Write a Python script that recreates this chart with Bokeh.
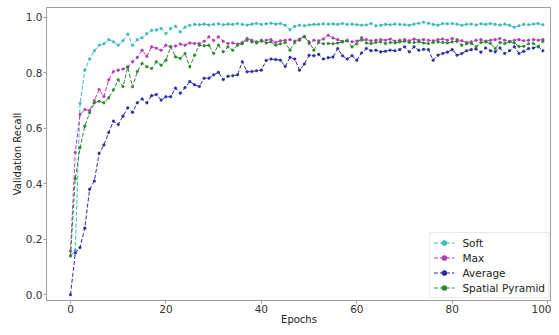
from bokeh.plotting import figure
from bokeh.models import Range1d, FixedTicker, PrintfTickFormatter, Legend, LegendItem
from bokeh.embed import file_html
from bokeh.resources import INLINE

epochs = list(range(100))

soft = [0.14, 0.16, 0.69, 0.81, 0.85, 0.88, 0.90, 0.905, 0.92, 0.912,
        0.90, 0.916, 0.94, 0.90, 0.92, 0.927, 0.942, 0.954, 0.955, 0.96,
        0.942, 0.96, 0.968, 0.948, 0.965, 0.972, 0.975, 0.974, 0.976, 0.973,
        0.975, 0.977, 0.974, 0.976, 0.975, 0.978, 0.975, 0.973, 0.976, 0.978,
        0.975, 0.977, 0.979, 0.976, 0.978, 0.972, 0.956, 0.968, 0.972, 0.970,
        0.973, 0.975, 0.975, 0.977, 0.976, 0.977, 0.975, 0.978, 0.975, 0.976,
        0.974, 0.972, 0.973, 0.978, 0.970, 0.972, 0.975, 0.974, 0.976, 0.975,
        0.974, 0.972, 0.976, 0.979, 0.983, 0.979, 0.975, 0.972, 0.978, 0.977,
        0.978, 0.976, 0.972, 0.975, 0.976, 0.973, 0.977, 0.975, 0.978, 0.975,
        0.973, 0.976, 0.972, 0.965, 0.970, 0.975, 0.974, 0.976, 0.978, 0.974]

maxp = [0.157, 0.513, 0.65, 0.668, 0.664, 0.70, 0.74, 0.715, 0.775, 0.805,
        0.81, 0.814, 0.822, 0.84, 0.856, 0.882, 0.86, 0.894, 0.889, 0.882,
        0.90, 0.894, 0.897, 0.904, 0.90, 0.908, 0.906, 0.906, 0.914, 0.93,
        0.917, 0.93, 0.914, 0.906, 0.908, 0.904, 0.910, 0.924, 0.918, 0.912,
        0.914, 0.918, 0.920, 0.910, 0.916, 0.918, 0.920, 0.915, 0.922, 0.932,
        0.906, 0.918, 0.916, 0.922, 0.936, 0.926, 0.920, 0.914, 0.918, 0.912,
        0.915, 0.918, 0.920, 0.916, 0.918, 0.920, 0.918, 0.922, 0.915, 0.918,
        0.920, 0.916, 0.922, 0.918, 0.920, 0.918, 0.916, 0.920, 0.922, 0.918,
        0.924, 0.920, 0.916, 0.910, 0.912, 0.918, 0.920, 0.915, 0.918, 0.920,
        0.924, 0.918, 0.914, 0.918, 0.920, 0.916, 0.918, 0.920, 0.918, 0.920]

average = [0.0, 0.15, 0.17, 0.24, 0.38, 0.41, 0.51, 0.54, 0.585, 0.626,
           0.614, 0.644, 0.674, 0.658, 0.692, 0.706, 0.692, 0.718, 0.722, 0.702,
           0.714, 0.714, 0.745, 0.727, 0.747, 0.769, 0.757, 0.751, 0.781, 0.781,
           0.793, 0.802, 0.776, 0.788, 0.79, 0.793, 0.84, 0.804, 0.805, 0.808,
           0.81, 0.845, 0.85, 0.848, 0.846, 0.823, 0.856, 0.85, 0.81, 0.832,
           0.864, 0.862, 0.867, 0.85, 0.855, 0.857, 0.888, 0.862, 0.85, 0.862,
           0.846, 0.872, 0.888, 0.88, 0.882, 0.876, 0.878, 0.882, 0.88, 0.884,
           0.894, 0.876, 0.894, 0.882, 0.885, 0.884, 0.846, 0.864, 0.87, 0.875,
           0.884, 0.864, 0.87, 0.88, 0.884, 0.886, 0.875, 0.89, 0.88, 0.876,
           0.89, 0.87, 0.88, 0.894, 0.87, 0.878, 0.888, 0.89, 0.895, 0.88]

spatial = [0.14, 0.418, 0.53, 0.608, 0.656, 0.692, 0.698, 0.692, 0.71, 0.739,
           0.775, 0.751, 0.82, 0.75, 0.805, 0.834, 0.822, 0.816, 0.84, 0.828,
           0.846, 0.894, 0.858, 0.852, 0.87, 0.822, 0.864, 0.90, 0.898, 0.90,
           0.87, 0.90, 0.876, 0.894, 0.882, 0.90, 0.905, 0.918, 0.912, 0.908,
           0.918, 0.908, 0.912, 0.90, 0.905, 0.91, 0.882, 0.91, 0.918, 0.93,
           0.912, 0.882, 0.91, 0.905, 0.906, 0.905, 0.908, 0.912, 0.915, 0.894,
           0.905, 0.927, 0.908, 0.906, 0.91, 0.912, 0.906, 0.91, 0.908, 0.912,
           0.914, 0.91, 0.91, 0.912, 0.908, 0.906, 0.91, 0.912, 0.91, 0.908,
           0.912, 0.914, 0.90, 0.905, 0.906, 0.894, 0.91, 0.912, 0.906, 0.888,
           0.91, 0.906, 0.912, 0.908, 0.895, 0.896, 0.905, 0.906, 0.895, 0.914]

series_names = ["Soft", "Max", "Average", "Spatial Pyramid"]
series_values = [soft, maxp, average, spatial]
series_colors = ["#3bb9b9", "#b23ab6", "#2a2aa0", "#2a872e"]

x_ticks = [0, 20, 40, 60, 80, 100]
y_ticks = [0.0, 0.2, 0.4, 0.6, 0.8, 1.0]

FONT = "DejaVu Sans"

p = figure(width=551, height=327, output_backend="svg", toolbar_location=None,
           x_range=Range1d(-5.03, 100.8), y_range=Range1d(-0.021, 1.036),
           min_border_left=46, min_border_right=0, min_border_top=7, min_border_bottom=24)
p.xgrid.visible = False
p.ygrid.visible = False
p.outline_line_color = "#a0a0a0"
p.background_fill_color = "white"
p.border_fill_color = "white"

items = []
for name, vals, col in zip(series_names, series_values, series_colors):
    r1 = p.line(epochs, vals, line_color=col, line_width=1.0, line_dash="4 2")
    r2 = p.scatter(epochs, vals, size=2.6, fill_color=col, line_color=col, line_width=0.5)
    items.append(LegendItem(label=name, renderers=[r1, r2]))

for ax in (p.xaxis[0], p.yaxis[0]):
    ax.axis_line_color = "#a0a0a0"
    ax.major_tick_line_color = "#a0a0a0"
    ax.major_tick_out = 3
    ax.major_tick_in = 0
    ax.minor_tick_line_color = None
    ax.major_label_text_font = FONT
    ax.major_label_text_font_size = "10.5px"
    ax.major_label_text_color = "#333333"
    ax.axis_label_text_font = FONT
    ax.axis_label_text_font_size = "10px"
    ax.axis_label_text_font_style = "normal"
    ax.axis_label_text_color = "#222222"
    ax.major_label_standoff = 1

p.xaxis.axis_label_standoff = -2
p.yaxis.axis_label_standoff = 0
p.xaxis.ticker = FixedTicker(ticks=x_ticks)
p.yaxis.ticker = FixedTicker(ticks=y_ticks)
p.yaxis.formatter = PrintfTickFormatter(format="%.1f")
p.xaxis.axis_label = "Epochs"
p.yaxis.axis_label = "Validation Recall"

legend = Legend(items=items, location="bottom_right")
legend.label_text_font = FONT
legend.label_text_font_size = "10.5px"
legend.label_text_color = "#222222"
legend.glyph_width = 21
legend.glyph_height = 13
legend.label_height = 13
legend.spacing = 2
legend.padding = 3
legend.margin = 2
legend.label_standoff = 8
legend.border_line_color = "#d0d0d0"
legend.background_fill_alpha = 0.9
p.add_layout(legend)

open("out.html", "w").write(file_html(p, INLINE))
